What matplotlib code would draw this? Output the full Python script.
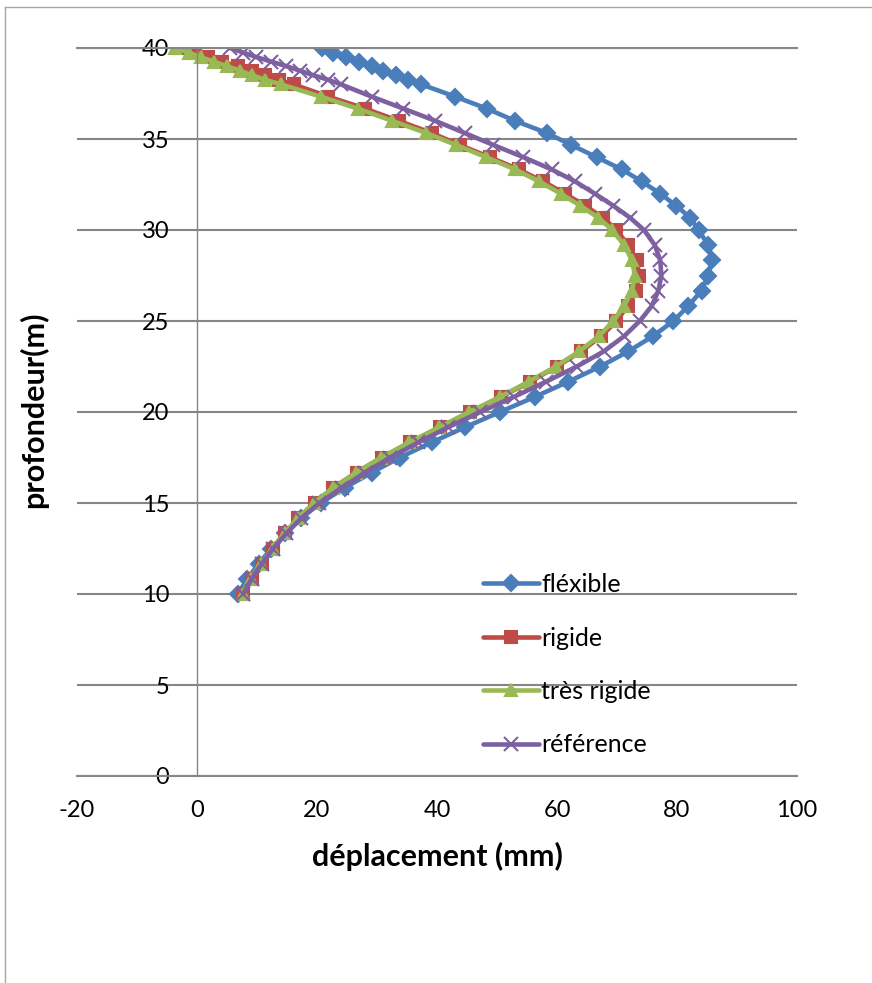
import matplotlib
matplotlib.use('Agg')
import matplotlib.pyplot as plt
from matplotlib.lines import Line2D

plt.rcParams['font.family'] = ['Lato', 'DejaVu Sans']
plt.rcParams['axes.unicode_minus'] = False

# profondeur (m)
depth = [40, 39.75, 39.5, 39.25, 39, 38.75, 38.5, 38.25, 38,
         37.33, 36.67, 36, 35.33, 34.67, 34, 33.33, 32.67, 32, 31.33, 30.67, 30,
         29.17, 28.33, 27.5, 26.67, 25.83, 25, 24.17, 23.33, 22.5, 21.67, 20.83, 20,
         19.17, 18.33, 17.5, 16.67, 15.83, 15, 14.17, 13.33, 12.5, 11.67, 10.83, 10]

# déplacement (mm)
flexible = [20.8, 22.7, 24.9, 27.0, 29.1, 31.0, 33.1, 35.1, 37.4,
            43.0, 48.3, 53.0, 58.3, 62.4, 66.6, 70.8, 74.1, 77.2, 79.9, 82.2, 83.6,
            85.2, 85.8, 85.2, 84.1, 81.9, 79.4, 76.0, 71.9, 67.2, 61.9, 56.3, 50.5,
            44.7, 39.1, 33.8, 29.1, 24.6, 20.6, 17.3, 14.7, 12.4, 10.3, 8.4, 6.8]

rigide = [-3.2, -0.3, 1.9, 4.1, 6.9, 9.1, 11.3, 13.6, 16.1,
          21.9, 28.0, 33.6, 39.1, 43.8, 48.8, 53.6, 57.7, 61.3, 64.7, 67.7, 69.9,
          71.9, 73.3, 73.7, 73.2, 71.8, 69.9, 67.4, 64.0, 60.0, 55.5, 50.7, 45.5,
          40.5, 35.5, 30.8, 26.6, 22.7, 19.6, 16.9, 14.7, 12.7, 10.8, 9.1, 7.7]

tres_rigide = [-3.7, -1.4, 0.6, 2.8, 5.0, 7.2, 9.2, 11.4, 14.0,
               20.6, 26.8, 32.5, 38.2, 43.2, 48.2, 53.0, 57.0, 60.6, 63.9, 66.9, 69.2,
               71.2, 72.5, 73.0, 72.5, 71.2, 69.4, 67.0, 63.7, 59.8, 55.3, 50.5, 45.4,
               40.4, 35.4, 30.7, 26.5, 22.6, 19.5, 16.8, 14.6, 12.6, 10.7, 9.0, 7.6]

reference = [5.5, 7.7, 9.9, 12.4, 14.9, 17.2, 19.4, 21.9, 24.0,
             29.1, 34.4, 39.7, 44.6, 49.4, 54.4, 59.1, 63.0, 66.3, 69.4, 72.2, 74.5,
             76.3, 77.2, 77.4, 76.9, 75.8, 73.8, 71.2, 67.8, 63.3, 58.2, 52.8, 47.2,
             41.9, 36.9, 32.2, 28.0, 24.1, 20.4, 17.4, 14.9, 12.7, 10.8, 9.1, 7.7]

series = [
    ("fléxible", flexible, "#4A7EBB", "D", 8),
    ("rigide", rigide, "#BE4B48", "s", 8),
    ("très rigide", tres_rigide, "#98B954", "^", 9),
    ("référence", reference, "#7D60A0", "x", 10),
]

grid_col = "#868686"

fig = plt.figure(figsize=(8.72, 9.83), dpi=100)
ax = fig.add_axes([77 / 872, 1 - 776 / 983, 720 / 872, 728 / 983])

for name, xs, col, mk, ms in series:
    ax.plot(xs, depth, color=col, lw=3.3, marker=mk, ms=ms, mfc=col, mec=col,
            mew=1.5, label=name, solid_capstyle='round')

ax.set_xlim(-20, 100)
ax.set_ylim(0, 40)
ax.set_xticks(range(-20, 101, 20))
ax.set_yticks(range(0, 41, 5))
ax.yaxis.grid(True, color=grid_col, lw=1.5)
ax.set_axisbelow(True)

ax.spines['right'].set_visible(False)
ax.spines['top'].set_color(grid_col)
ax.spines['top'].set_linewidth(1.5)
ax.spines['bottom'].set_color(grid_col)
ax.spines['bottom'].set_linewidth(1.5)
ax.spines['left'].set_position(('data', 0))
ax.spines['left'].set_color(grid_col)
ax.spines['left'].set_linewidth(1.0)

ax.tick_params(axis='both', length=0, labelsize=17)
ax.tick_params(axis='y', pad=20)
ax.tick_params(axis='x', pad=17)

ax.set_xlabel("déplacement (mm)", fontsize=22, fontweight='bold', va='center')
ax.xaxis.set_label_coords(0.5, -0.111)
ax.set_ylabel("profondeur(m)", fontsize=22, fontweight='bold', va='center')
ax.yaxis.set_label_coords(-0.061, 0.503)

ax.legend(loc='upper left', bbox_to_anchor=(483 / 872, 1 - 573 / 983),
          bbox_transform=fig.transFigure, frameon=False, handlelength=2.25,
          handletextpad=0.08, labelspacing=1.22, borderpad=0, borderaxespad=0,
          fontsize=18, numpoints=1)

# outer chart border (cut off on the right and bottom)
fig.add_artist(Line2D([4.5 / 872, 4.5 / 872], [0, 1 - 7 / 983],
                      transform=fig.transFigure, color='#A6A6A6', lw=1))
fig.add_artist(Line2D([4.5 / 872, 1], [1 - 7 / 983, 1 - 7 / 983],
                      transform=fig.transFigure, color='#A6A6A6', lw=1))

fig.savefig("out.png", dpi=100)
